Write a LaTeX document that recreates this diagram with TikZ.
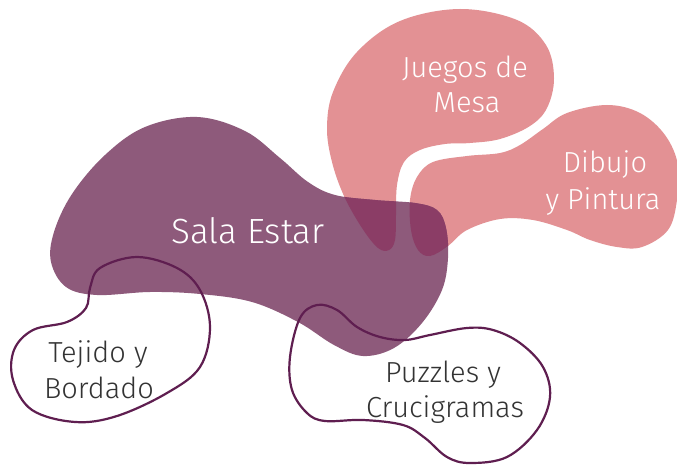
\documentclass[tikz,border=0pt]{standalone}
\usepackage{fontspec}
\setmainfont{Fira Sans}[UprightFont=* Light]
\definecolor{blobpurple}{HTML}{8E5A7B}
\definecolor{blobpink}{HTML}{E39194}
\definecolor{bloboverlap}{HTML}{8B3D66}
\definecolor{outlinecol}{HTML}{5F1E50}
\definecolor{darktext}{HTML}{333333}
\def\purplepath{plot[smooth cycle, tension=0.6] coordinates {(197,117) (245,131) (280,158) (308,182) (335,195) (375,200) (415,203) (437,210) (446,228) (448,258) (442,290) (422,323) (394,348) (363,356) (334,345) (298,322) (252,302) (200,294) (150,292) (97,295) (66,287) (51,262) (54,232) (72,194) (105,155) (145,127)}}
\def\juegospath{plot[smooth cycle, tension=0.6] coordinates {(460,9) (517,20) (546,45) (554,78) (547,108) (530,126) (500,139) (470,143) (445,144) (420,150) (404,162) (397,185) (396,215) (395,240) (389,250) (378,248) (362,228) (344,196) (332,162) (327,128) (333,92) (357,52) (400,21)}}
\def\dibujopath{plot[smooth cycle, tension=0.6] coordinates {(607,105) (640,113) (665,135) (678,165) (677,200) (668,230) (642,247) (617,247) (590,240) (567,230) (533,220) (500,219) (467,230) (448,246) (430,256) (418,250) (411,230) (410,200) (417,177) (433,162) (467,156) (500,153) (520,145) (543,129) (567,113)}}
\def\tejidopath{plot[smooth cycle, tension=0.6] coordinates {(137,257) (177,268) (200,290) (210,327) (200,367) (167,393) (117,416) (75,422) (32,410) (13,380) (14,350) (33,330) (67,322) (86,308) (90,288) (100,268)}}
\def\puzzlespath{plot[smooth cycle, tension=0.6] coordinates {(317,305) (300,318) (290,357) (292,390) (307,413) (325,421) (363,420) (403,425) (425,438) (447,457) (470,463) (507,457) (537,430) (550,397) (543,367) (520,343) (493,330) (467,328) (430,335) (405,340) (380,337) (357,327) (337,310)}}
\tikzset{
  whitelabel/.style={text=white, anchor=base, inner sep=0pt, font=\fontsize{29}{35}\selectfont},
  darklabel/.style={text=darktext, anchor=base, inner sep=0pt, font=\fontsize{29}{35}\selectfont},
  outlineblob/.style={draw=outlinecol, line width=2.2pt}
}
\begin{document}
\begin{tikzpicture}[x=1pt,y=-1pt]
\useasboundingbox (0,0) rectangle (677,465);
\fill[white] (0,0) rectangle (677,465);
% pink blobs
\fill[blobpink] \juegospath;
\fill[blobpink] \dibujopath;
% purple blob
\fill[blobpurple] \purplepath;
% overlap
\begin{scope}
  \clip \purplepath;
  \fill[bloboverlap] \juegospath;
  \fill[bloboverlap] \dibujopath;
\end{scope}
% outline blobs
\draw[outlineblob] \tejidopath;
\draw[outlineblob] \puzzlespath;
% labels
\node[whitelabel, font=\fontsize{35}{40}\selectfont] (sala) at (248,243) {Sala Estar};
\node[whitelabel] (juegos1) at (465,78) {Juegos de};
\node[whitelabel] (juegos2) at (467,113) {Mesa};
\node[whitelabel] (dibujo1) at (605,173) {Dibujo};
\node[whitelabel] (dibujo2) at (603,210) {y Pintura};
\node[darklabel] (tejido1) at (98,362) {Tejido y};
\node[darklabel] (tejido2) at (99,398) {Bordado};
\node[darklabel] (puzzles1) at (443,382) {Puzzles y};
\node[darklabel] (puzzles2) at (445,417) {Crucigramas};
\end{tikzpicture}
\end{document}
